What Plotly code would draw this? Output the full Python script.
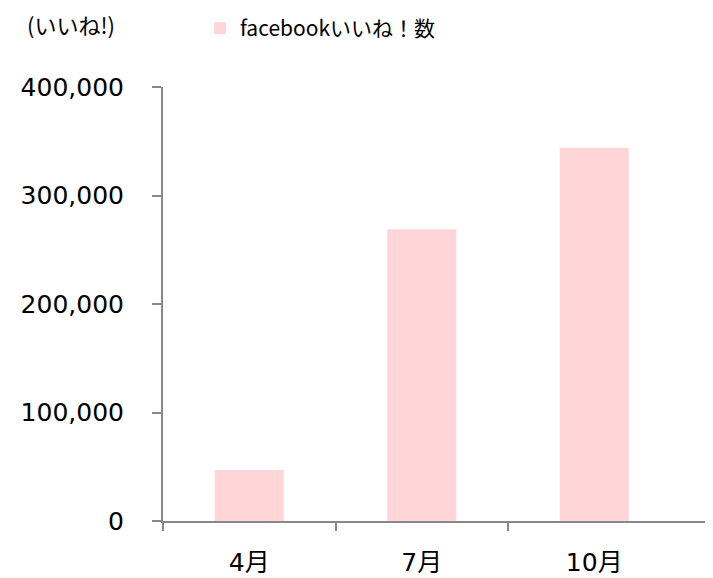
import plotly.graph_objects as go

categories = ["4月", "7月", "10月"]
likes = [47000, 269000, 344000]
series_name = "facebookいいね！数"
y_ticks = [0, 100000, 200000, 300000, 400000]
y_tick_labels = ["0", "100,000", "200,000", "300,000", "400,000"]
unit_label = "(いいね!)"

W, H = 713, 578
# the page adds an 8px body margin; positions below are in figure pixels
ML, MR, MT, MB = 155, 0, 79, 65
pos = list(range(len(categories)))
boundaries = [p - 0.5 for p in pos]

fig = go.Figure()
fig.add_trace(go.Bar(
    x=pos, y=likes, name=series_name, width=0.4,
    marker=dict(color="#FFD5D8", line=dict(width=0)),
))
# invisible trace carrying the boundary tick axis
fig.add_trace(go.Scatter(x=boundaries, y=[0] * len(boundaries), xaxis="x2",
                         mode="markers", marker=dict(opacity=0), showlegend=False,
                         hoverinfo="skip"))

plot_w = W - ML - MR
plot_h = H - MT - MB
xmax = -0.5 + plot_w / 172.5
font_ax = dict(family="DejaVu Sans, Noto Sans CJK JP", size=25, color="#000000")

fig.update_layout(
    width=W, height=H,
    margin=dict(l=ML, r=MR, t=MT, b=MB, autoexpand=False),
    paper_bgcolor="white", plot_bgcolor="white",
    showlegend=True,
    legend=dict(orientation="h", x=(192 - ML) / plot_w, y=1 + MT / plot_h,
                xanchor="left", yanchor="top",
                font=dict(family="Noto Sans CJK JP", size=21, color="#000000"),
                bgcolor="rgba(0,0,0,0)"),
    xaxis=dict(range=[-0.5, xmax], tickmode="array", tickvals=pos, ticktext=categories,
               ticks="", showline=True, linecolor="#888888", linewidth=2,
               showgrid=False, zeroline=False, tickfont=font_ax,
               ticklabelstandoff=18, automargin=False, fixedrange=True),
    xaxis2=dict(overlaying="x", range=[-0.5, xmax], tickmode="array", tickvals=boundaries,
                ticks="outside", ticklen=9, tickwidth=2, tickcolor="#888888",
                showticklabels=False, showline=False, showgrid=False, zeroline=False,
                side="bottom", anchor="y", automargin=False),
    yaxis=dict(range=[0, 400000], tickmode="array", tickvals=y_ticks, ticktext=y_tick_labels,
               ticks="outside", ticklen=9, tickwidth=2, tickcolor="#888888",
               showline=True, linecolor="#888888", linewidth=2,
               showgrid=False, zeroline=False, tickfont=font_ax,
               ticklabelstandoff=23, automargin=False),
    annotations=[dict(text=unit_label, xref="paper", yref="paper",
                      x=(17 - ML) / plot_w, y=1 + (MT - 16) / plot_h,
                      xanchor="left", yanchor="middle", showarrow=False,
                      font=dict(family="Noto Sans CJK JP", size=22, color="#000000"))],
)

fig.write_html("out.html")
